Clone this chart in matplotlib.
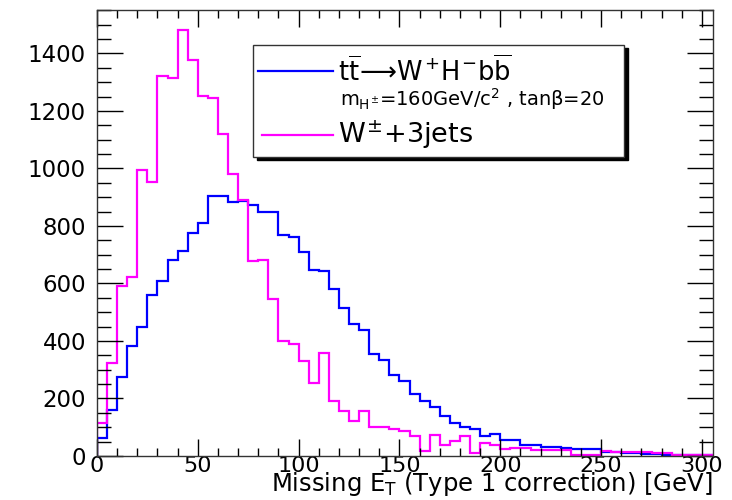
import matplotlib
matplotlib.use("Agg")
import matplotlib.pyplot as plt
from matplotlib.patches import Rectangle
from matplotlib.ticker import MultipleLocator
import numpy as np

# histogram contents, 5 GeV bins from 0 to 305 GeV
bin_edges = np.arange(0, 306, 5)

signal_counts = [62, 160, 276, 383, 447, 561, 607, 681, 712, 776,
                 811, 904, 904, 883, 886, 872, 848, 848, 770, 762,
                 710, 648, 642, 581, 513, 460, 439, 354, 334, 281,
                 262, 217, 193, 172, 139, 114, 102, 93, 70, 77,
                 56, 56, 38, 38, 32, 32, 27, 24, 24, 24,
                 15, 15, 10, 10, 8, 8, 4, 4, 4, 4,
                 3]

wjets_counts = [116, 323, 592, 623, 994, 954, 1322, 1314, 1481, 1377,
                1252, 1244, 1121, 981, 890, 677, 683, 546, 400, 389,
                331, 255, 358, 193, 158, 123, 158, 102, 100, 95,
                88, 70, 19, 73, 38, 53, 70, 12, 46, 38,
                24, 27, 27, 20, 20, 20, 20, 5, 3, 3,
                18, 15, 15, 15, 15, 10, 10, 3, 3, 5,
                5]

signal_label = r"$t\overline{t}\!\longrightarrow\!W^{+}H^{-}b\overline{b}$"
signal_note = r"$m_{H^{\pm}}$=160GeV/c$^{2}$ , tan$\beta$=20"
wjets_label = r"$W^{\pm}$+3jets"

plt.rcParams["font.family"] = ["DejaVu Sans"]
plt.rcParams["mathtext.fontset"] = "custom"
plt.rcParams["mathtext.rm"] = "DejaVu Sans"
plt.rcParams["mathtext.it"] = "DejaVu Sans"
plt.rcParams["mathtext.bf"] = "DejaVu Sans:bold"

W, H = 732, 500
fig = plt.figure(figsize=(W / 100, H / 100), dpi=100)
ax = fig.add_axes([97 / W, 1 - 456 / H, (713 - 97) / W, (456 - 10) / H])

ax.stairs(signal_counts, bin_edges, color=(0, 0, 1), lw=1.6, baseline=0)
ax.stairs(wjets_counts, bin_edges, color=(1, 0, 1), lw=1.6, baseline=0)

ax.set_xlim(0, 305.5)
ax.set_ylim(0, 1551)

ax.xaxis.set_major_locator(MultipleLocator(50))
ax.xaxis.set_minor_locator(MultipleLocator(10))
ax.yaxis.set_major_locator(MultipleLocator(200))
ax.yaxis.set_minor_locator(MultipleLocator(50))

ax.tick_params(axis="x", which="both", direction="in", top=True, labelsize=16, pad=0)
ax.tick_params(axis="x", which="major", length=12, width=1)
ax.tick_params(axis="x", which="minor", length=6, width=1)
ax.tick_params(axis="y", which="both", direction="in", right=True, labelsize=16.5, pad=8)
ax.tick_params(axis="y", which="major", length=19, width=1)
ax.tick_params(axis="y", which="minor", length=10, width=1)
for sp in ax.spines.values():
    sp.set_linewidth(1)
    sp.set_color("#333333")

fig.text(712 / W, 1 - 491 / H, r"Missing E$_{T}$ (Type 1 correction) [GeV]",
         ha="right", va="baseline", fontsize=17.5)

# ROOT style legend with shadow
def fx(px):
    return px / W

def fy(py):
    return 1 - py / H

shadow = Rectangle((fx(257), fy(160)), fx(624 - 253), (157 - 45) / H,
                   transform=fig.transFigure, facecolor="black", edgecolor="black", lw=1)
box = Rectangle((fx(253), fy(157)), fx(624 - 253), (157 - 45) / H,
                transform=fig.transFigure, facecolor="white", edgecolor="#333333", lw=1)
fig.patches.extend([shadow, box])

fig.lines.append(plt.Line2D([fx(258), fx(333)], [fy(71), fy(71)],
                            transform=fig.transFigure, color=(0, 0, 1), lw=1.6))
fig.lines.append(plt.Line2D([fx(262), fx(333)], [fy(135), fy(135)],
                            transform=fig.transFigure, color=(1, 0, 1), lw=1.6))
fig.text(fx(338), fy(71), signal_label, ha="left", va="center", fontsize=18.5)
fig.text(fx(340), fy(99), signal_note, ha="left", va="center", fontsize=14)
fig.text(fx(338), fy(135), wjets_label, ha="left", va="center", fontsize=19.5)

fig.savefig("out.png", dpi=100)
